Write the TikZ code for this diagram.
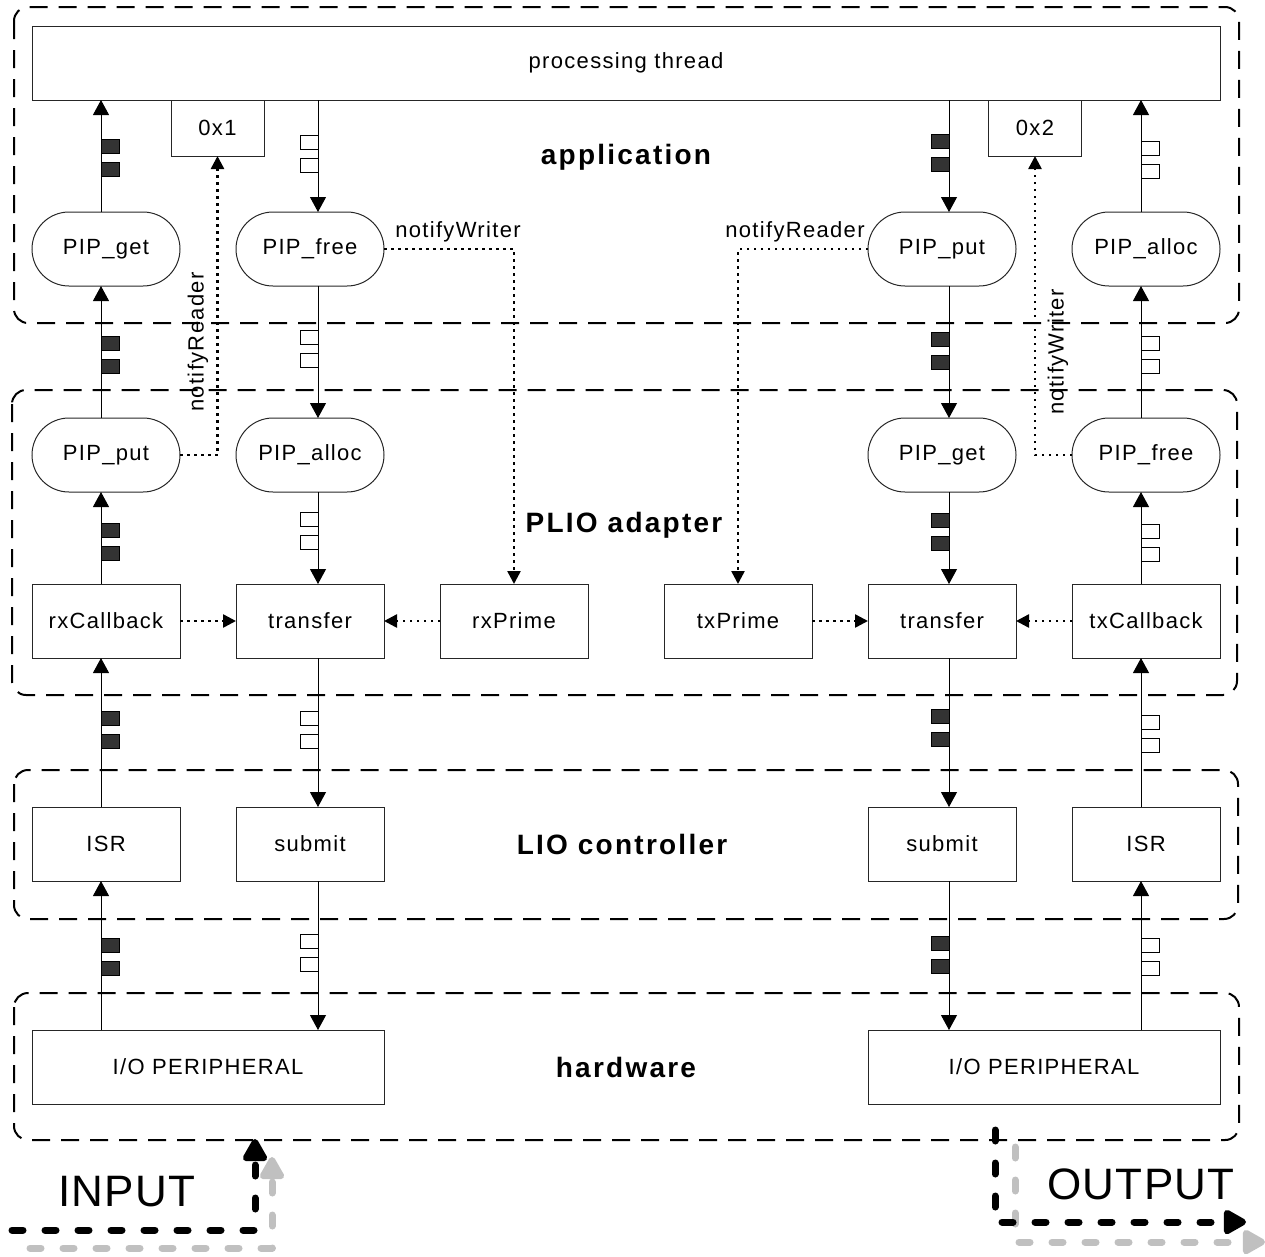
\documentclass[tikz,border=0pt]{standalone}
\usepackage{fontspec}
\setmainfont[LetterSpace=6]{Liberation Sans}
\newfontfamily\lblfont[LetterSpace=8]{Liberation Sans}
\newfontfamily\bigfont[LetterSpace=3]{Liberation Sans}
\usetikzlibrary{arrows.meta}
\definecolor{bufdark}{HTML}{333333}
\definecolor{arrgray}{HTML}{C0C0C0}
\tikzset{
  box/.style={draw=black!85, line width=1pt, rectangle, inner sep=0pt, outer sep=0pt,
    minimum width=148pt, minimum height=74pt, font=\fontsize{22}{26}\selectfont},
  pill/.style={box, rounded corners=37pt},
  group/.style={draw, line width=2pt, dash pattern=on 18pt off 11pt, rounded corners=14pt},
  flow/.style={line width=1pt, -{Triangle[length=15pt,width=16pt]}},
  notify/.style={line width=2.5pt, dash pattern=on 2.5pt off 4.5pt, -{Triangle[length=13pt,width=13pt]}},
  notelbl/.style={font=\fontsize{22}{26}\selectfont, inner sep=0pt},
  grplbl/.style={font=\lblfont\bfseries\fontsize{28}{32}\selectfont, inner sep=0pt},
  biglbl/.style={font=\bigfont\fontsize{44}{48}\selectfont, inner sep=0pt},
  bigarrow/.style={line width=7pt, line cap=round, line join=round, dash pattern=on 11pt off 22pt,
    -{Triangle[length=26pt,width=27pt,round=false]}},
  buf/.style={draw=black, line width=1pt},
}
\newcommand\bufs[3]{%
  \filldraw[buf, fill=#3] (#1,#2) rectangle ++(18,14);
  \filldraw[buf, fill=#3] (#1,#2+23) rectangle ++(18,14);}
\begin{document}
\begin{tikzpicture}[x=1pt,y=-1pt]
\useasboundingbox (0,0) rectangle (1265,1256);

% groups
\draw[group] (14,7) rectangle (1239,323);
\draw[group] (12,390) rectangle (1237,695);
\draw[group] (14,770) rectangle (1238,919);
\draw[group] (14,993) rectangle (1239,1140);

% nodes
\node[box, minimum width=1188pt] (thread) at (626,63) {processing thread};
\node[box, minimum width=93pt, minimum height=56pt] (ox1) at (217.5,128) {0x1};
\node[box, minimum width=93pt, minimum height=56pt] (ox2) at (1035,128) {0x2};

\node[pill] (getA) at (106,249) {PIP\_get};
\node[pill] (freeA) at (310,249) {PIP\_free};
\node[pill] (putB) at (942,249) {PIP\_put};
\node[pill] (allocB) at (1146,249) {PIP\_alloc};

\node[pill] (putA) at (106,455) {PIP\_put};
\node[pill] (allocA) at (310,455) {PIP\_alloc};
\node[pill] (getB) at (942,455) {PIP\_get};
\node[pill] (freeB) at (1146,455) {PIP\_free};

\node[box] (rxcb) at (106,621) {rxCallback};
\node[box] (trA) at (310,621) {transfer};
\node[box] (rxpr) at (514,621) {rxPrime};
\node[box] (txpr) at (738,621) {txPrime};
\node[box] (trB) at (942,621) {transfer};
\node[box] (txcb) at (1146,621) {txCallback};

\node[box] (isrA) at (106,844) {ISR};
\node[box] (subA) at (310,844) {submit};
\node[box] (subB) at (942,844) {submit};
\node[box] (isrB) at (1146,844) {ISR};

\node[box, minimum width=352pt] (ioA) at (208,1067) {I/O PERIPHERAL};
\node[box, minimum width=352pt] (ioB) at (1044,1067) {I/O PERIPHERAL};

% group labels
\node[grplbl] (lblApp) at (626,157) {application};
\node[grplbl] (lblPlio) at (624,525) {PLIO adapter};
\node[grplbl] (lblLio) at (622,844) {LIO controller};
\node[grplbl] (lblHw) at (626,1067) {hardware};

% line x positions
\coordinate (L1) at (101,0);
\coordinate (L2) at (318,0);
\coordinate (L3) at (949,0);
\coordinate (L4) at (1141,0);

% column 1 (up)
\draw[flow] (ioA.north -| L1) -- (isrA.south -| L1);
\draw[flow] (isrA.north -| L1) -- (rxcb.south -| L1);
\draw[flow] (rxcb.north -| L1) -- (putA.south -| L1);
\draw[flow] (putA.north -| L1) -- (getA.south -| L1);
\draw[flow] (getA.north -| L1) -- (thread.south -| L1);
% column 2 (down)
\draw[flow] (thread.south -| L2) -- (freeA.north -| L2);
\draw[flow] (freeA.south -| L2) -- (allocA.north -| L2);
\draw[flow] (allocA.south -| L2) -- (trA.north -| L2);
\draw[flow] (trA.south -| L2) -- (subA.north -| L2);
\draw[flow] (subA.south -| L2) -- (ioA.north -| L2);
% column 3 (down)
\draw[flow] (thread.south -| L3) -- (putB.north -| L3);
\draw[flow] (putB.south -| L3) -- (getB.north -| L3);
\draw[flow] (getB.south -| L3) -- (trB.north -| L3);
\draw[flow] (trB.south -| L3) -- (subB.north -| L3);
\draw[flow] (subB.south -| L3) -- (ioB.north -| L3);
% column 4 (up)
\draw[flow] (ioB.north -| L4) -- (isrB.south -| L4);
\draw[flow] (isrB.north -| L4) -- (txcb.south -| L4);
\draw[flow] (txcb.north -| L4) -- (freeB.south -| L4);
\draw[flow] (freeB.north -| L4) -- (allocB.south -| L4);
\draw[flow] (allocB.north -| L4) -- (thread.south -| L4);

% buffers
\bufs{101}{139}{bufdark}\bufs{101}{336}{bufdark}\bufs{101}{523}{bufdark}\bufs{101}{711}{bufdark}\bufs{101}{938}{bufdark}
\bufs{300}{135}{white}\bufs{300}{330}{white}\bufs{300}{512}{white}\bufs{300}{711}{white}\bufs{300}{934}{white}
\bufs{931}{134}{bufdark}\bufs{931}{332}{bufdark}\bufs{931}{513}{bufdark}\bufs{931}{709}{bufdark}\bufs{931}{936}{bufdark}
\bufs{1141}{141}{white}\bufs{1141}{336}{white}\bufs{1141}{524}{white}\bufs{1141}{715}{white}\bufs{1141}{938}{white}

% notify connectors
\draw[notify] (putA.east) -| (ox1.south);
\draw[notify] (freeA.east) -| (rxpr.north);
\draw[notify] (putB.west) -| (txpr.north);
\draw[notify] (freeB.west) -| (ox2.south);
\draw[notify] (rxcb.east) -- (trA.west);
\draw[notify] (rxpr.west) -- (trA.east);
\draw[notify] (txpr.east) -- (trB.west);
\draw[notify] (txcb.west) -- (trB.east);

\node[notelbl, rotate=90] (nrA) at (198,342) {notifyReader};
\node[notelbl] (nwA) at (458,232) {notifyWriter};
\node[notelbl] (nrB) at (795,232) {notifyReader};
\node[notelbl, rotate=90] (nwB) at (1058,352) {notifyWriter};

% INPUT / OUTPUT
\coordinate (inG0) at (30,1248);
\coordinate (inG1) at (272,1248);
\coordinate (inG2) at (272,1157);
\coordinate (inB0) at (12,1230);
\coordinate (inB1) at (255,1230);
\coordinate (inB2) at (255,1139);
\draw[bigarrow, arrgray] (inG0) -- (inG1) -- (inG2);
\draw[bigarrow, black] (inB0) -- (inB1) -- (inB2);
\node[biglbl] (inlbl) at (127,1192) {INPUT};

\coordinate (outG0) at (1015,1147);
\coordinate (outG1) at (1015,1242);
\coordinate (outG2) at (1265,1242);
\coordinate (outB0) at (995,1130);
\coordinate (outB1) at (995,1222);
\coordinate (outB2) at (1246,1222);
\draw[bigarrow, arrgray] (outG0) -- (outG1) -- (outG2);
\draw[bigarrow, black] (outB0) -- (outB1) -- (outB2);
\node[biglbl] (outlbl) at (1141,1184) {OUTPUT};
\end{tikzpicture}
\end{document}
